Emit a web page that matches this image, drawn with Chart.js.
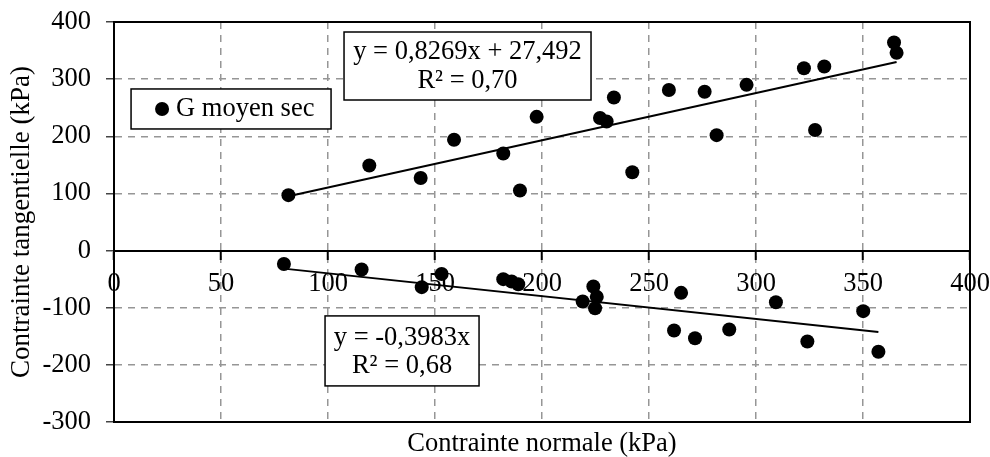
<!DOCTYPE html>
<html>
<head>
<meta charset="utf-8">
<script src="https://cdn.jsdelivr.net/npm/chart.js@4.4.0/dist/chart.umd.min.js"></script>
<style>
  html, body { margin: 0; padding: 0; background: #fff; }
</style>
</head>
<body>
<canvas id="chart" width="990" height="457"></canvas>
<script>
// measured points (kPa), upper branch then lower branch
const normalStress = [
  81.5, 119.3, 143.3, 158.9, 181.9, 189.7, 197.5, 227.1, 230.2, 233.6,
  242.2, 259.3, 276, 281.6, 295.6, 322.4, 331.9, 327.6, 364.5, 365.7,
  79.4, 115.7, 143.8, 153.1, 181.9, 185.8, 188.9, 219, 224, 225.6,
  224.8, 265, 261.7, 271.5, 287.5, 309.3, 324, 350.1, 357.2
];
const shearStress = [
  97, 149, 127, 194, 170, 105, 234, 232, 226, 268,
  137, 281, 278, 202, 290, 319, 322, 211, 364, 346,
  -23.5, -33, -64, -41, -50, -54, -59, -89, -63, -81,
  -101, -74, -140, -153.5, -138, -90.5, -159, -106, -177
];

// trend line end points
const upperTrendX = [81.5, 365.7];
const upperTrendY = [94.9, 330];
const lowerTrendX = [79.4, 357.2];
const lowerTrendY = [-31.6, -142.3];

const seriesName = 'G moyen sec';
const upperEquation = ['y = 0,8269x + 27,492', 'R² = 0,70'];
const lowerEquation = ['y = -0,3983x', 'R² = 0,68'];

const xTicks = [0, 50, 100, 150, 200, 250, 300, 350, 400];
const yTicks = [-300, -200, -100, 0, 100, 200, 300, 400];

const FONT = "'Liberation Serif', 'Times New Roman', serif";
const FSIZE = 26.5;

const toPoints = (xs, ys) => xs.map((v, i) => ({ x: v, y: ys[i] }));

// frame, legend box and equation boxes
const boxesPlugin = {
  id: 'boxes',
  afterDatasetsDraw(chart) {
    const { ctx, chartArea: a, scales } = chart;
    const x = scales.x, y = scales.y;

    ctx.save();
    ctx.strokeStyle = '#000';
    ctx.lineWidth = 2;
    ctx.strokeRect(a.left, a.top, a.right - a.left, a.bottom - a.top);

    const box = (cx, cy, w, h) => {
      const px = x.getPixelForValue(cx), py = y.getPixelForValue(cy);
      ctx.fillStyle = '#fff';
      ctx.fillRect(px - w / 2, py - h / 2, w, h);
      ctx.lineWidth = 1.5;
      ctx.strokeStyle = '#000';
      ctx.strokeRect(px - w / 2, py - h / 2, w, h);
      return { px, py };
    };

    ctx.font = FSIZE + 'px ' + FONT;
    ctx.textBaseline = 'middle';

    // legend
    let c = box(54.7, 247.8, 200, 40);
    ctx.fillStyle = '#000';
    ctx.beginPath();
    ctx.arc(c.px - 69, c.py, 7, 0, Math.PI * 2);
    ctx.fill();
    ctx.textAlign = 'left';
    ctx.fillText(seriesName, c.px - 55, c.py);

    // equations
    ctx.textAlign = 'center';
    c = box(165.2, 323, 247, 68);
    ctx.fillStyle = '#000';
    ctx.fillText(upperEquation[0], c.px, c.py - 14);
    ctx.fillText(upperEquation[1], c.px, c.py + 15);

    c = box(134.6, -175.6, 154, 70);
    ctx.fillStyle = '#000';
    ctx.fillText(lowerEquation[0], c.px, c.py - 13);
    ctx.fillText(lowerEquation[1], c.px, c.py + 15);
    ctx.restore();
  }
};

const gridDash = [7, 6];

new Chart(document.getElementById('chart'), {
  type: 'scatter',
  data: {
    datasets: [
      {
        label: seriesName,
        data: toPoints(normalStress, shearStress),
        backgroundColor: '#000',
        borderColor: '#000',
        pointRadius: 7,
        pointBorderWidth: 0,
        order: 1
      },
      {
        type: 'line',
        data: toPoints(upperTrendX, upperTrendY),
        borderColor: '#000',
        borderWidth: 2,
        pointRadius: 0,
        order: 2
      },
      {
        type: 'line',
        data: toPoints(lowerTrendX, lowerTrendY),
        borderColor: '#000',
        borderWidth: 2,
        pointRadius: 0,
        order: 2
      }
    ]
  },
  options: {
    responsive: false,
    animation: false,
    layout: { padding: { top: 22, right: 20, left: 0, bottom: 0 } },
    plugins: { legend: { display: false }, tooltip: { enabled: false } },
    scales: {
      x: {
        type: 'linear',
        position: { y: 0 },
        min: 0,
        max: 400,
        afterBuildTicks: s => { s.ticks = xTicks.map(v => ({ value: v })); },
        afterFit: s => { s.height = 0; s.paddingLeft = 0; s.paddingRight = 0; },
        ticks: {
          autoSkip: false,
          maxRotation: 0,
          padding: 10,
          color: '#000',
          font: { family: FONT, size: FSIZE }
        },
        grid: {
          color: '#969696',
          lineWidth: 1.5,
          tickLength: 8,
          tickColor: '#000',
          tickWidth: 2,
          tickBorderDash: []
        },
        border: { color: '#000', width: 2, dash: gridDash }
      },
      x2: {
        type: 'linear',
        position: 'bottom',
        min: 0,
        max: 400,
        afterFit: s => { s.height = 35; s.paddingLeft = 0; s.paddingRight = 0; },
        ticks: { display: false },
        grid: { display: false, drawTicks: false },
        border: { color: '#000', width: 2 },
        title: {
          display: true,
          text: 'Contrainte normale (kPa)',
          color: '#000',
          font: { family: FONT, size: FSIZE, lineHeight: 1 },
          padding: { top: 0, bottom: 0 }
        }
      },
      y: {
        type: 'linear',
        position: 'left',
        min: -300,
        max: 400,
        afterBuildTicks: s => { s.ticks = yTicks.map(v => ({ value: v })); },
        afterFit: s => { s.width = 114; s.paddingTop = 0; s.paddingBottom = 0; },
        ticks: {
          padding: 15,
          color: '#000',
          font: { family: FONT, size: FSIZE }
        },
        grid: {
          color: '#969696',
          lineWidth: 1.5,
          tickLength: 8,
          tickColor: '#444',
          tickWidth: 1.5,
          tickBorderDash: []
        },
        border: { color: '#000', width: 2, dash: gridDash },
        title: {
          display: true,
          text: 'Contrainte tangentielle (kPa)',
          color: '#000',
          font: { family: FONT, size: 27 },
          padding: { top: 6, bottom: 0 }
        }
      }
    }
  },
  plugins: [boxesPlugin]
});
</script>
</body>
</html>
